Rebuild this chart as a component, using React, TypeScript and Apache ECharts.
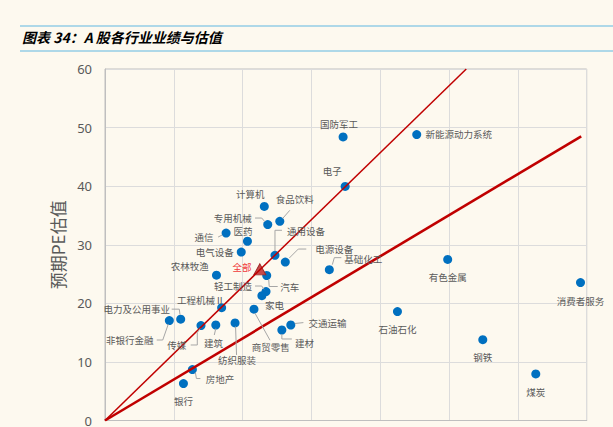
import { useEffect, useRef } from 'react';
import * as echarts from 'echarts';

// 行业名称、业绩增速（横轴，刻度标签在原图中被裁掉）、预期PE估值（纵轴）
const industryNames = [
  '电子', '国防军工', '新能源动力系统', '有色金属', '消费者服务', '石油石化', '钢铁', '煤炭',
  '基础化工', '电源设备', '通用设备', '食品饮料', '计算机', '专用机械', '通信', '医药',
  '电气设备', '农林牧渔', '汽车', '轻工制造', '家电', '工程机械Ⅱ', '电力及公用事业', '非银行金融',
  '传媒', '建筑', '纺织服装', '商贸零售', '建材', '交通运输', '房地产', '银行',
];
const growthValues = [
  34.9, 34.6, 45.3, 49.8, 69.1, 42.5, 54.9, 62.6,
  32.6, 26.2, 24.7, 25.4, 23.15, 23.65, 17.6, 20.7,
  19.8, 16.2, 23.5, 23.4, 22.8, 16.95, 11.0, 9.35,
  13.95, 16.1, 18.9, 21.65, 25.7, 27.0, 12.7, 11.4,
];
const peValues = [
  39.95, 48.4, 48.8, 27.5, 23.55, 18.6, 13.8, 7.95,
  25.75, 27.05, 28.2, 34.0, 36.55, 33.45, 32.0, 30.6,
  28.75, 24.8, 24.75, 22.0, 21.3, 19.25, 17.3, 17.05,
  16.2, 16.3, 16.65, 19.0, 15.45, 16.3, 8.7, 6.3,
];
const totalName = '全部';
const totalGrowth = 22.5;
const totalPE = 25.8;
const yTicks = { min: 0, max: 60, step: 10 };
const xTicks = { min: 0, max: 70, step: 10 };
const steepLine = [[0, 0], [52.5, 60]];
const flatLine = [[0, 0], [69.2, 48.5]];

// label offsets (pixels, relative to the marker) and optional leader polylines
const labelPlacement: Record<string, { dx: number; dy: number; leader?: number[][] }> = {
  '电子': { dx: -13, dy: -15 },
  '国防军工': { dx: -4, dy: -13 },
  '新能源动力系统': { dx: 42, dy: -1 },
  '有色金属': { dx: 0, dy: 18 },
  '消费者服务': { dx: 0, dy: 18 },
  '石油石化': { dx: 0, dy: 17 },
  '钢铁': { dx: 0, dy: 17 },
  '煤炭': { dx: 0, dy: 18 },
  '基础化工': { dx: 34, dy: -11, leader: [[3, -5], [5, -12], [12, -12]] },
  '电源设备': { dx: 49, dy: -13, leader: [[4, -4], [13, -13], [21, -13]] },
  '通用设备': { dx: 31, dy: -24, leader: [[0, -4], [0, -25], [7, -25]] },
  '食品饮料': { dx: 15, dy: -22, leader: [[3, -3], [10, -11]] },
  '计算机': { dx: -14, dy: -12 },
  '专用机械': { dx: -35, dy: -6.7, leader: [[-3, -3], [-6, -6.5], [-12.7, -6.5]] },
  '通信': { dx: -22, dy: 4, leader: [[-4, 2], [-8, 4]] },
  '医药': { dx: -4.4, dy: -10 },
  '电气设备': { dx: -26.5, dy: 0 },
  '农林牧渔': { dx: -26.7, dy: -9.4 },
  '汽车': { dx: 23, dy: 11, leader: [[2, 4], [2.5, 11], [11, 11]] },
  '轻工制造': { dx: -33, dy: -5.6, leader: [[-11, -5.6], [-4.3, -5.6], [-2, -2.3]] },
  '家电': { dx: 12.6, dy: 9.4 },
  '工程机械Ⅱ': { dx: -21, dy: -8 },
  '电力及公用事业': { dx: -44, dy: -10, leader: [[-9, -10], [-1.4, -10], [-0.7, -4.5]] },
  '非银行金融': { dx: -39.5, dy: 19.4, leader: [[-1, 3.4], [-6.6, 19.4], [-12.6, 19.4]] },
  '传媒': { dx: -24.3, dy: 19.4, leader: [[-1, 3], [-3.7, 7], [-3.7, 19.4], [-10.3, 19.4]] },
  '建筑': { dx: -2.4, dy: 17.6, leader: [[0, 3.5], [-1.5, 10]] },
  '纺织服装': { dx: 2, dy: 37, leader: [[0.5, 3.5], [1.5, 32]] },
  '商贸零售': { dx: 16.8, dy: 38.3, leader: [[1, 4], [16, 31]] },
  '建材': { dx: 22.7, dy: 12.6, leader: [[0, 4], [0, 9], [10, 9]] },
  '交通运输': { dx: 36.6, dy: -2.4, leader: [[4, -1.5], [12.6, -2.4]] },
  '房地产': { dx: 27.5, dy: 9.7, leader: [[3, 3], [4, 9], [8, 9]] },
  '银行': { dx: 0, dy: 17 },
  '全部': { dx: -17.9, dy: -2.7 },
};

const CJK = '"Noto Sans CJK SC", "Noto Sans", sans-serif';

export default function App() {
  const ref = useRef<HTMLDivElement>(null);
  useEffect(() => {
    const chart = echarts.init(ref.current!, null, { renderer: 'svg' });
    const pointData = industryNames.map((n, i) => ({ name: n, value: [growthValues[i], peValues[i]] }));
    const labelData = [...pointData, { name: totalName, value: [totalGrowth, totalPE] }];
    chart.setOption({
      animation: false,
      backgroundColor: '#FDF9EF',
      graphic: [
        { type: 'line', shape: { x1: 20, y1: 26, x2: 613, y2: 26 }, style: { stroke: '#93CDE6', lineWidth: 1.5 } },
        { type: 'line', shape: { x1: 20, y1: 51, x2: 613, y2: 51 }, style: { stroke: '#93CDE6', lineWidth: 1.5 } },
        {
          type: 'text', left: 22, top: 30,
          style: {
            text: '图表 34：A 股各行业业绩与估值', fill: '#000',
            fontSize: 14, fontWeight: 'bold', fontStyle: 'italic', fontFamily: CJK,
          },
        },
      ],
      grid: {
        left: 105, top: 69, right: 26.3, bottom: 4,
        show: true, borderColor: '#BFBFBF', borderWidth: 1, backgroundColor: 'transparent',
      },
      xAxis: {
        type: 'value', min: xTicks.min, max: xTicks.max, interval: xTicks.step,
        axisLabel: { show: false }, axisTick: { show: false },
        axisLine: { show: true, lineStyle: { color: '#BFBFBF' } },
        splitLine: { show: true, lineStyle: { color: '#DCDCDC', width: 1 } },
      },
      yAxis: {
        type: 'value', min: yTicks.min, max: yTicks.max, interval: yTicks.step,
        name: '预期PE估值', nameLocation: 'middle', nameGap: 34,
        nameTextStyle: { fontSize: 17, color: '#595959', fontFamily: CJK },
        axisLabel: { fontSize: 13, color: '#595959', margin: 13, fontFamily: '"Noto Sans", sans-serif' },
        axisTick: { show: false },
        axisLine: { show: true, lineStyle: { color: '#BFBFBF' } },
        splitLine: { show: true, lineStyle: { color: '#DCDCDC', width: 1 } },
      },
      series: [
        {
          type: 'scatter', name: '行业', data: pointData, symbol: 'circle', symbolSize: 9,
          itemStyle: { color: '#0070C0', opacity: 1 }, z: 3,
        },
        {
          type: 'scatter', name: totalName, data: [[totalGrowth, totalPE]], symbol: 'triangle', symbolSize: [12, 11],
          itemStyle: { color: '#C84A4A', borderColor: '#A02828', borderWidth: 1, opacity: 1 }, z: 3,
        },
        {
          type: 'line', data: steepLine, showSymbol: false, symbol: 'none',
          lineStyle: { color: '#C00000', width: 1.5 }, z: 4,
        },
        {
          type: 'line', data: flatLine, showSymbol: false, symbol: 'none',
          lineStyle: { color: '#C00000', width: 2.6 }, z: 4,
        },
        {
          type: 'custom', coordinateSystem: 'cartesian2d', data: labelData, z: 5,
          encode: { x: 0, y: 1 },
          renderItem: (params: any, api: any) => {
            const item = labelData[params.dataIndex];
            const pt = api.coord([api.value(0), api.value(1)]);
            const pl = labelPlacement[item.name] || { dx: 0, dy: 15 };
            const children: any[] = [];
            if (pl.leader) {
              children.push({
                type: 'polyline',
                shape: { points: pl.leader.map(([ox, oy]) => [pt[0] + ox, pt[1] + oy]) },
                style: { stroke: '#A6A6A6', lineWidth: 1, fill: 'none' },
              });
            }
            children.push({
              type: 'text', x: pt[0] + pl.dx, y: pt[1] + pl.dy,
              style: {
                text: item.name, fill: item.name === totalName ? '#F03A3A' : '#5A5A5A',
                fontSize: 9.5, fontFamily: CJK, align: 'center', verticalAlign: 'middle',
              },
            });
            return { type: 'group', children };
          },
        },
      ],
    });
    return () => chart.dispose();
  }, []);
  return (
    <div
      ref={ref}
      style={{ position: 'fixed', left: 0, top: 0, width: 613, height: 427, background: '#FDF9EF' }}
    />
  );
}
